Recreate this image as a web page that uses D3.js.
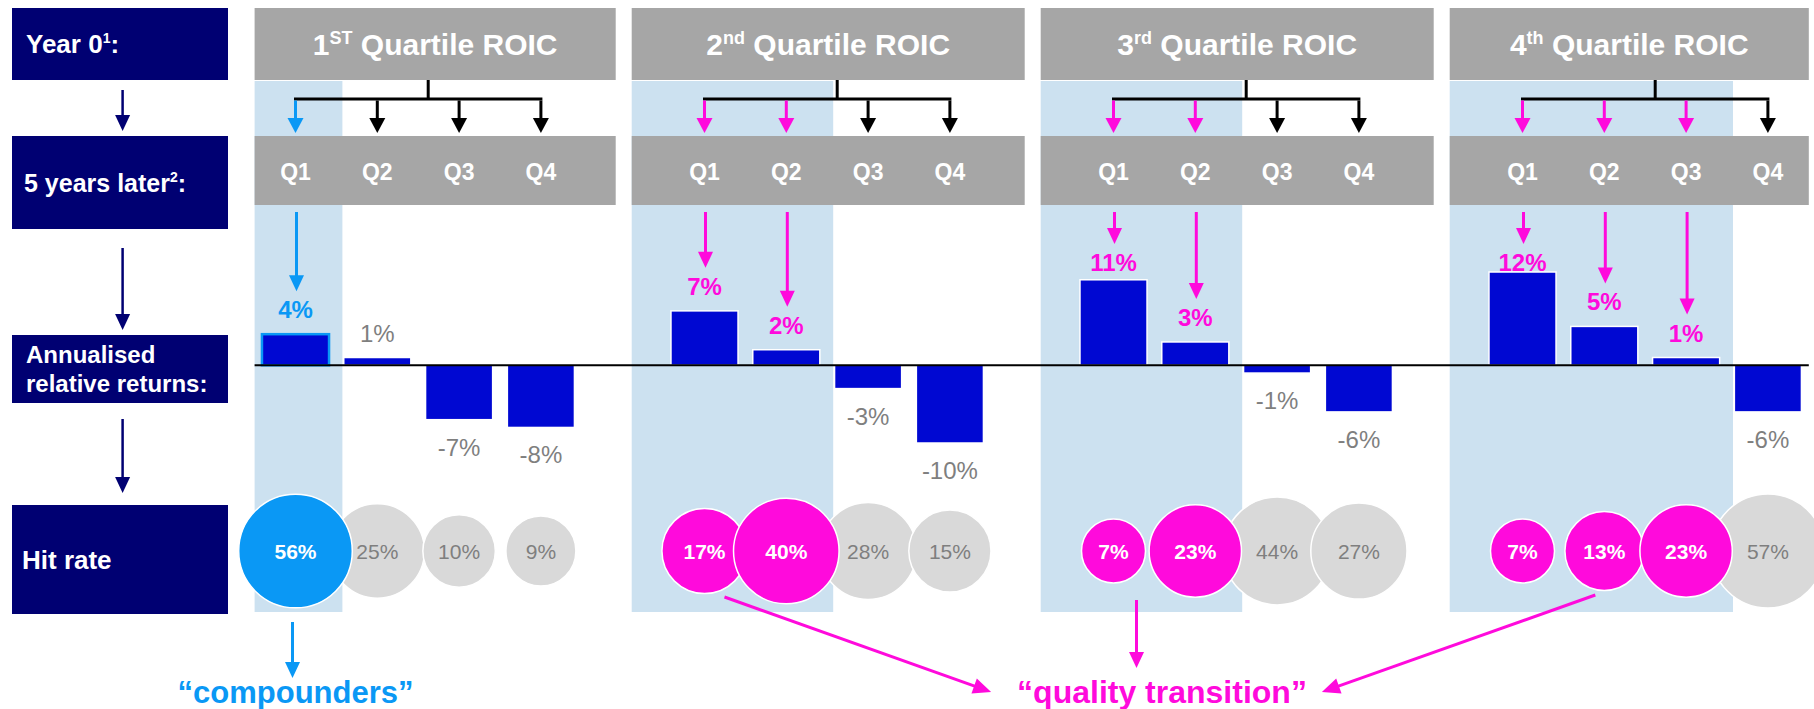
<!DOCTYPE html>
<html><head><meta charset="utf-8">
<script src="https://cdn.jsdelivr.net/npm/d3@7"></script>
<style>html,body{margin:0;padding:0;background:#fff;} svg{display:block;font-family:"Liberation Sans",Arial,Helvetica,sans-serif;}</style>
</head><body><svg id="chart" width="1814" height="709"></svg>
<script>
// ---------- data ----------
const groupNumbers  = ["1", "2", "3", "4"];
const groupSuffixes = ["ST", "nd", "rd", "th"];
const groupTitle    = "Quartile ROIC";
const quartiles     = ["Q1", "Q2", "Q3", "Q4"];
// annualised relative returns (%), per starting quartile -> quartile 5 years later
const returns = [
  [4, 1, -7, -8],
  [7, 2, -3, -10],
  [11, 3, -1, -6],
  [12, 5, 1, -6]
];
// hit rates (%)
const hitRates = [
  [56, 25, 10, 9],
  [17, 40, 28, 15],
  [7, 23, 44, 27],
  [7, 13, 23, 57]
];
// highlight category per cell
const highlight = [
  ["compounder", "", "", ""],
  ["transition", "transition", "", ""],
  ["transition", "transition", "", ""],
  ["transition", "transition", "transition", ""]
];
const rowLabels = ["Year 0", "5 years later", "Annualised", "relative returns:", "Hit rate"];
const annotations = ["\u201Ccompounders\u201D", "\u201Cquality transition\u201D"];

// ---------- styles ----------
const NAVY = "#000072", HEAD = "#A6A6A6", PANEL = "#CCE1F0", BAR = "#0008D2",
      MAG = "#FF0ADC", LBLUE = "#0A98F5", CGRAY = "#D9D9D9", TGRAY = "#7F7F7F";
const hlColor = c => c === "compounder" ? LBLUE : (c === "transition" ? MAG : null);

const svg = d3.select("#chart");

// ---------- scales ----------
const keys = [];
groupNumbers.forEach((g, gi) => {
  quartiles.forEach((q, qi) => keys.push(gi + "-" + qi));
  if (gi < groupNumbers.length - 1) keys.push("gap" + gi);
});
const x = d3.scaleBand().domain(keys).range([254.6, 1808.8]).paddingInner(0.18).paddingOuter(0.09);
const step = x.step(), pad = (step - x.bandwidth()) / 2;
const xc = (g, q) => x(g + "-" + q) + x.bandwidth() / 2;
const slotStart = (g, q) => x(g + "-" + q) - pad;
const slotEnd = (g, q) => x(g + "-" + q) + x.bandwidth() + pad;
const y = d3.scaleLinear().domain([-10, 12]).range([443, 272]);
const r = d3.scaleLog().domain([7, 57]).range([32, 57]);

const HEAD_T = 8, HEAD_B = 80, QROW_T = 136, QROW_B = 205, PANEL_B = 612, CY = 551;
const headLeft = g => g === 0 ? slotStart(0, 0) : slotStart(g, 0) - step / 2 + 9;
const headRight = g => g === groupNumbers.length - 1 ? slotEnd(g, 3) : slotEnd(g, 3) + step / 2 - 7;

function arrow(sel, x1, y1, x2, y2, color, w = 3, hl = 15, hw = 15) {
  const dx = x2 - x1, dy = y2 - y1, len = Math.hypot(dx, dy), ux = dx / len, uy = dy / len;
  const bx = x2 - ux * hl, by = y2 - uy * hl;
  sel.append("line").attr("x1", x1).attr("y1", y1).attr("x2", bx + ux * 2).attr("y2", by + uy * 2)
    .attr("stroke", color).attr("stroke-width", w);
  sel.append("polygon").attr("fill", color)
    .attr("points", [[x2, y2], [bx - uy * hw / 2, by + ux * hw / 2], [bx + uy * hw / 2, by - ux * hw / 2]].map(p => p.join(",")).join(" "));
}

// ---------- left column ----------
const left = svg.append("g");
const boxes = [[8, 80], [136, 229], [335, 403], [505, 614]];
boxes.forEach(b => left.append("rect").attr("x", 12).attr("y", b[0]).attr("width", 216).attr("height", b[1] - b[0]).attr("fill", NAVY));
const lt = (xx, yy, size) => left.append("text").attr("x", xx).attr("y", yy).attr("fill", "#fff")
  .attr("font-weight", "bold").attr("font-size", size);
let t = lt(26, 53, 26);
t.append("tspan").text(rowLabels[0]);
t.append("tspan").attr("font-size", 14).attr("dy", -10).text("1");
t.append("tspan").attr("dy", 10).text(":");
t = lt(24, 192, 25);
t.append("tspan").text(rowLabels[1]);
t.append("tspan").attr("font-size", 14).attr("dy", -10).text("2");
t.append("tspan").attr("dy", 10).text(":");
lt(26, 363, 24).text(rowLabels[2]);
lt(26, 392, 24).text(rowLabels[3]);
lt(22, 569, 26).text(rowLabels[4]);
[[90, 131], [248, 330], [419, 493]].forEach(a => arrow(left, 122.6, a[0], 122.6, a[1], NAVY, 2.5, 16, 15));

// ---------- panels, headers, q rows ----------
const main = svg.append("g");
groupNumbers.forEach((gn, g) => {
  const hls = highlight[g];
  const lastHl = hls.reduce((a, c, i) => c ? i : a, -1);
  if (lastHl >= 0) {
    main.append("rect").attr("x", headLeft(g)).attr("y", HEAD_B + 1)
      .attr("width", slotEnd(g, lastHl) + 6 - headLeft(g)).attr("height", PANEL_B - HEAD_B - 1).attr("fill", PANEL);
  }
  main.append("rect").attr("x", headLeft(g)).attr("y", HEAD_T).attr("width", headRight(g) - headLeft(g))
    .attr("height", HEAD_B - HEAD_T).attr("fill", HEAD);
  main.append("rect").attr("x", headLeft(g)).attr("y", QROW_T).attr("width", headRight(g) - headLeft(g))
    .attr("height", QROW_B - QROW_T).attr("fill", HEAD);
  const ht = main.append("text").attr("x", (headLeft(g) + headRight(g)) / 2).attr("y", 55)
    .attr("text-anchor", "middle").attr("fill", "#fff").attr("font-weight", "bold").attr("font-size", 30);
  ht.append("tspan").text(gn);
  ht.append("tspan").attr("font-size", 18).attr("dy", -11).text(groupSuffixes[g]);
  ht.append("tspan").attr("dy", 11).text(" " + groupTitle);
  quartiles.forEach((q, qi) => {
    main.append("text").attr("x", xc(g, qi)).attr("y", 180).attr("text-anchor", "middle")
      .attr("fill", "#fff").attr("font-weight", "bold").attr("font-size", 23).text(q);
  });
  // tree
  const stemX = (xc(g, 0) + xc(g, 3)) / 2 + 10;
  main.append("line").attr("x1", stemX).attr("x2", stemX).attr("y1", HEAD_B).attr("y2", 99)
    .attr("stroke", "#000").attr("stroke-width", 3);
  main.append("line").attr("x1", xc(g, 0) - 1.5).attr("x2", xc(g, 3) + 1.5).attr("y1", 99).attr("y2", 99)
    .attr("stroke", "#000").attr("stroke-width", 3);
  quartiles.forEach((q, qi) => {
    const col = hlColor(hls[qi]) || "#000";
    arrow(main, xc(g, qi), 100.5, xc(g, qi), 133, col, 3, 15, 16);
  });
});

// ---------- label positions ----------
const labelBase = v => v >= 0 ? Math.max(y(v) - 16, 271) : y(v) + 36;

// arrows from Q row to highlighted labels
groupNumbers.forEach((gn, g) => {
  highlight[g].forEach((h, qi) => {
    if (!h) return;
    arrow(main, xc(g, qi) + 1, 212, xc(g, qi) + 1, labelBase(returns[g][qi]) - 27, hlColor(h), 3, 16, 15);
  });
});

// ---------- bars ----------
const cells = [];
returns.forEach((row, g) => row.forEach((v, qi) => cells.push({ g, qi, v, h: highlight[g][qi], hit: hitRates[g][qi] })));
main.selectAll("rect.bar").data(cells).join("rect").attr("class", "bar")
  .attr("x", d => x(d.g + "-" + d.qi)).attr("width", x.bandwidth())
  .attr("y", d => Math.min(y(d.v), y(0))).attr("height", d => Math.abs(y(d.v) - y(0)))
  .attr("fill", BAR)
  .attr("stroke", d => d.h === "compounder" ? LBLUE : "#fff")
  .attr("stroke-width", d => d.h === "compounder" ? 2.5 : 1.5);
main.append("line").attr("x1", headLeft(0)).attr("x2", headRight(3)).attr("y1", y(0)).attr("y2", y(0))
  .attr("stroke", "#000").attr("stroke-width", 2.2);
main.selectAll("text.val").data(cells).join("text").attr("class", "val")
  .attr("x", d => xc(d.g, d.qi)).attr("y", d => labelBase(d.v)).attr("text-anchor", "middle")
  .attr("font-size", 24).attr("font-weight", d => d.h ? "bold" : "normal")
  .attr("fill", d => hlColor(d.h) || TGRAY)
  .text(d => d.v + "%");

// ---------- hit-rate bubbles ----------
const order = cells.slice().sort((a, b) => (a.h ? 1 : 0) - (b.h ? 1 : 0));
const bub = main.selectAll("g.bub").data(order).join("g").attr("class", "bub");
bub.append("circle").attr("cx", d => xc(d.g, d.qi)).attr("cy", CY).attr("r", d => r(d.hit))
  .attr("fill", d => hlColor(d.h) || CGRAY).attr("stroke", "#fff").attr("stroke-width", 1.5);
bub.append("text").attr("x", d => xc(d.g, d.qi)).attr("y", CY + 7.5).attr("text-anchor", "middle")
  .attr("font-size", 21).attr("font-weight", d => d.h ? "bold" : "normal")
  .attr("fill", d => d.h ? "#fff" : TGRAY).text(d => d.hit + "%");

// ---------- annotations ----------
const ann = svg.append("g");
ann.append("text").attr("x", xc(0, 0)).attr("y", 703).attr("text-anchor", "middle")
  .attr("font-size", 31).attr("font-weight", "bold").attr("fill", LBLUE).text(annotations[0]);
arrow(ann, xc(0, 0) - 3, 622, xc(0, 0) - 3, 678, LBLUE, 3, 16, 15);
const qx = 1162;
const qt = ann.append("text").attr("x", qx).attr("y", 703).attr("text-anchor", "middle")
  .attr("font-size", 32).attr("font-weight", "bold").attr("fill", MAG).text(annotations[1]);
const qw = qt.node().getComputedTextLength();
arrow(ann, xc(1, 0) + 20, 597, qx - qw / 2 - 26, 692, MAG, 3, 18, 16);
arrow(ann, xc(2, 0) + 23, 600, xc(2, 0) + 23, 668, MAG, 3, 16, 15);
arrow(ann, xc(3, 1) - 9, 595, qx + qw / 2 + 15, 692, MAG, 3, 18, 16);
</script></body></html>
